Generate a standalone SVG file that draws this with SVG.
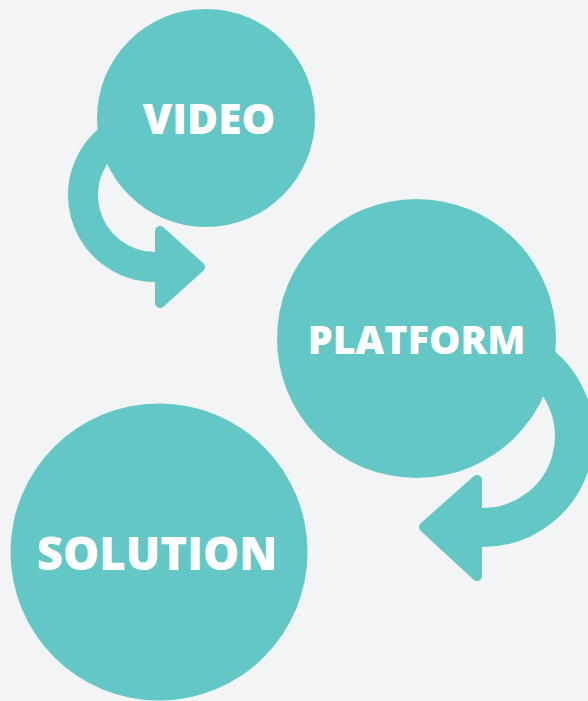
<svg xmlns="http://www.w3.org/2000/svg" width="588" height="701" viewBox="0 0 588 701">
<style>
.n{fill:#62c7c5}
.a{fill:none;stroke:#62c7c5}
.h{fill:#62c7c5;stroke:#62c7c5;stroke-width:10;stroke-linejoin:round}
.t{fill:#fff;font-family:"Open Sans","DejaVu Sans",sans-serif;font-weight:800;text-anchor:middle}
</style>
<rect width="588" height="701" fill="#f3f4f6"/>
<g id="connectors">
<path class="a" stroke-width="30" d="M119,132.65 A72,72 0 0 0 155,267 h4"/>
<polygon class="h" points="160,231 200,267 160,303"/>
<path class="a" stroke-width="39" d="M528.75,356.8 A91.5,91.5 0 0 1 483,527.5 h-5"/>
<polygon class="h" points="477,480 424,527 477,576"/>
</g>
<g id="video">
<circle class="n" cx="206" cy="118" r="109"/>
<text class="t" x="209" y="134" font-size="42.5">VIDEO</text>
</g>
<g id="platform">
<circle class="n" cx="416.5" cy="338.5" r="139.5"/>
<text class="t" x="416.5" y="353.5" font-size="39.5">PLATFORM</text>
</g>
<g id="solution">
<circle class="n" cx="159" cy="552" r="148.5"/>
<text class="t" x="157" y="569.5" font-size="45.5">SOLUTION</text>
</g>
</svg>
